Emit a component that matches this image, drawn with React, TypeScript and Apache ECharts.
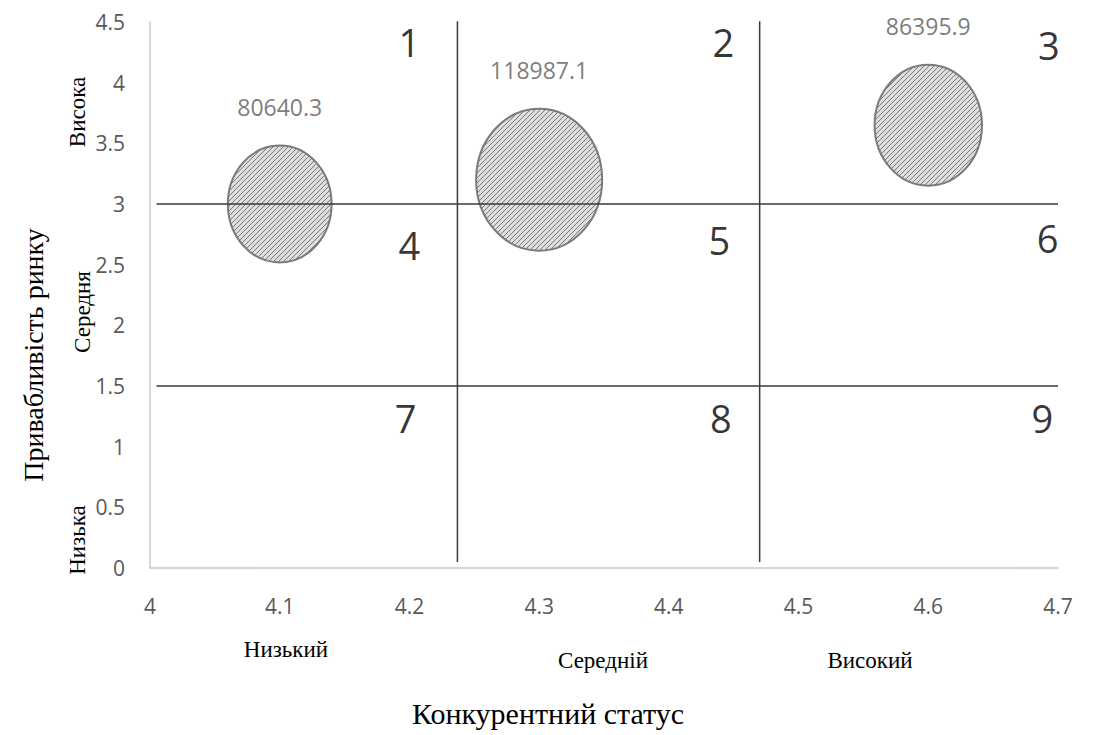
import React, { useEffect, useRef } from "react";
import * as echarts from "echarts";

const bubbleX = [4.1, 4.3, 4.6];
const bubbleY = [3.0, 3.2, 3.65];
const bubbleValues = [80640.3, 118987.1, 86395.9];

const cellLabels = ["1", "2", "3", "4", "5", "6", "7", "8", "9"];
const cellX = [4.2, 4.442, 4.693, 4.2, 4.439, 4.692, 4.197, 4.44, 4.688];
const cellY = [4.335, 4.335, 4.31, 2.66, 2.7, 2.72, 1.236, 1.236, 1.236];

const dividerX = [4.237, 4.47];
const dividerY = [3.0, 1.5];

const xMin = 4, xMax = 4.7, xStep = 0.1;
const yMin = 0, yMax = 4.5, yStep = 0.5;

const xCategories = ["Низький", "Середній", "Високий"];
const yCategories = ["Висока", "Середня", "Низька"];
const xTitle = "Конкурентний статус";
const yTitle = "Привабливість ринку";

function makeHatch(): HTMLCanvasElement {
  const c = document.createElement("canvas");
  c.width = 10;
  c.height = 10;
  const ctx = c.getContext("2d")!;
  ctx.fillStyle = "#dedede";
  ctx.fillRect(0, 0, 10, 10);
  ctx.strokeStyle = "rgba(85,85,85,0.75)";
  ctx.lineWidth = 1;
  for (let o = -10; o <= 15; o += 5) {
    ctx.beginPath();
    ctx.moveTo(o, 10);
    ctx.lineTo(o + 10, 0);
    ctx.stroke();
  }
  return c;
}

export default function App() {
  const ref = useRef<HTMLDivElement>(null);
  useEffect(() => {
    document.body.style.margin = "0";
    const chart = echarts.init(ref.current!, undefined, { renderer: "svg" });
    const lineStyle = { color: "#3a3a3a", width: 1.5 };
    const dividerSeries: any[] = [];
    dividerX.forEach((x) => {
      dividerSeries.push({
        type: "line", data: [[x, 0.05], [x, 4.52]], symbol: "none",
        lineStyle, z: 5, silent: true,
      });
    });
    dividerY.forEach((y) => {
      dividerSeries.push({
        type: "line", data: [[4.005, y], [xMax, y]], symbol: "none",
        lineStyle, z: 5, silent: true,
      });
    });
    const k = 126 / Math.sqrt(118987.1);
    const kh = 142 / Math.sqrt(118987.1);
    const hatch = makeHatch();
    const serif = "Liberation Serif";
    const catText = (text: string, x: number, y: number, rot = 0, size = 23) => ({
      type: "text", x, y, rotation: rot,
      style: { text, fontSize: size, fontFamily: serif, fill: "#000", align: "center", verticalAlign: "middle" },
    });
    const bubbleData = bubbleX.map((x, i) => [x, bubbleY[i], bubbleValues[i]]);
    chart.setOption({
      animation: false,
      grid: { left: 150, right: 39, top: 22, bottom: 167, containLabel: false },
      xAxis: {
        type: "value", min: xMin, max: xMax, interval: xStep,
        axisLine: { show: true, lineStyle: { color: "#c8c8c8", width: 1.5 } },
        axisTick: { show: false }, splitLine: { show: false },
        axisLabel: { color: "#595959", fontSize: 21, fontFamily: "Open Sans", margin: 27,
          formatter: (v: number) => String(Math.round(v * 10) / 10) },
      },
      yAxis: {
        type: "value", min: yMin, max: yMax, interval: yStep,
        axisLine: { show: true, lineStyle: { color: "#c8c8c8", width: 1.5 } },
        axisTick: { show: false }, splitLine: { show: false },
        axisLabel: { color: "#595959", fontSize: 21, fontFamily: "Open Sans", margin: 25,
          formatter: (v: number) => String(Math.round(v * 10) / 10) },
      },
      series: [
        {
          type: "custom",
          data: bubbleData,
          encode: { x: 0, y: 1 },
          renderItem: (params: any, api: any) => {
            const p = api.coord([api.value(0), api.value(1)]);
            const v = api.value(2);
            return {
              type: "ellipse",
              shape: { cx: p[0], cy: p[1], rx: (k * Math.sqrt(v)) / 2, ry: (kh * Math.sqrt(v)) / 2 },
              style: { fill: { image: hatch, repeat: "repeat" }, stroke: "#7a7a7a", lineWidth: 2 },
            };
          },
          z: 3, silent: true,
        },
        {
          type: "scatter",
          data: bubbleData,
          symbol: "circle",
          symbolSize: (d: number[]) => [k * Math.sqrt(d[2]), kh * Math.sqrt(d[2])],
          itemStyle: { color: "rgba(0,0,0,0)", borderWidth: 0 },
          label: {
            show: true, position: "top", distance: 27,
            formatter: (p: any) => String(p.value[2]),
            color: "#595959", fontSize: 23, fontFamily: "Open Sans",
          },
          z: 4, silent: true,
        },
        ...dividerSeries,
        {
          type: "scatter",
          data: cellX.map((x, i) => [x, cellY[i], cellLabels[i]]),
          symbolSize: 0,
          label: {
            show: true, position: "inside",
            formatter: (p: any) => p.value[2],
            color: "#000", fontSize: 38, fontFamily: "Open Sans",
          },
          z: 6, silent: true,
        },
      ],
      graphic: [
        catText(xTitle, 548, 713, 0, 30),
        catText(xCategories[0], 286, 649),
        catText(xCategories[1], 603, 660),
        catText(xCategories[2], 870, 660),
        catText(yTitle, 33, 355, Math.PI / 2, 28),
        catText(yCategories[0], 77, 112, Math.PI / 2),
        catText(yCategories[1], 82, 312, Math.PI / 2),
        catText(yCategories[2], 77, 540, Math.PI / 2),
      ],
    });
    return () => chart.dispose();
  }, []);
  return <div ref={ref} style={{ width: 1097, height: 735 }} />;
}
